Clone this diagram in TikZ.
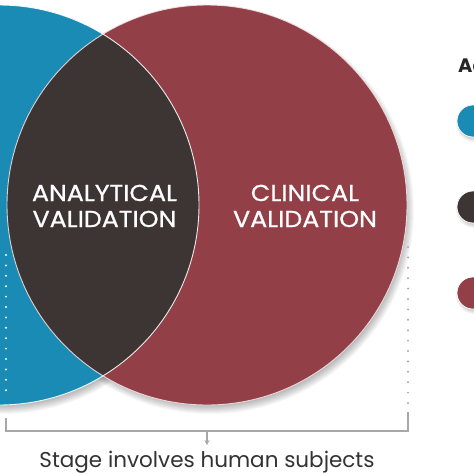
\documentclass[tikz,border=0pt]{standalone}
\usepackage{fontspec}
\setmainfont{Poppins}
\newfontfamily\lblfont{Poppins}[FakeBold=0.7]
\usetikzlibrary{arrows.meta,calc}
\definecolor{vblue}{HTML}{1A8BB5}
\definecolor{vdark}{HTML}{3D3533}
\definecolor{vred}{HTML}{933F47}
\definecolor{vgray}{HTML}{A8A8A8}
\definecolor{vtext}{HTML}{333333}
\tikzset{
  labeltext/.style={text=white, anchor=base, inner sep=0pt, font=\lblfont\fontsize{23}{26}\selectfont},
  dotline/.style={line width=2.2pt, line cap=round, dash pattern=on 0pt off 10.4pt},
  bracketline/.style={vgray, line width=1.1pt},
  rimline/.style={white, line width=0.9pt, opacity=0.9},
}
\newcommand{\wideT}[1]{\scalebox{1.1}[1]{#1}}
\begin{document}
\begin{tikzpicture}[x=1pt,y=-1pt]
\useasboundingbox (0,0) rectangle (474,474);
\clip (0,0) rectangle (474,474);
\fill[white] (0,0) rectangle (474,474);
\coordinate (bc) at (-1,205);
\coordinate (rc) at (207,205);
% soft shadows
\foreach \k in {0,...,8}{
  \fill[black,opacity=0.03] ($(rc)+(3,5)$) circle[radius={(196+\k)*1pt}];
  \fill[black,opacity=0.03] ($(bc)+(3,5)$) circle[radius={(196+\k)*1pt}];
}
\fill[vblue] (bc) circle[radius=200pt];
\fill[vred] (rc) circle[radius=200pt];
\begin{scope}
  \clip (bc) circle[radius=200pt];
  \fill[vdark] (rc) circle[radius=200pt];
\end{scope}
\draw[rimline] (bc) circle[radius=200pt];
\draw[rimline, color=white!85!vred] (rc) circle[radius=200pt];
% labels
\node[labeltext] (anl1) at (104.5,201) {\wideT{ANALYTICAL}};
\node[labeltext] (anl2) at (104.5,227) {\wideT{VALIDATION}};
\node[labeltext] (cli1) at (305,201) {\wideT{CLINICAL}};
\node[labeltext] (cli2) at (305,227) {\wideT{VALIDATION}};
% legend
\node[anchor=base west, inner sep=0pt, font=\bfseries\fontsize{19.5}{22}\selectfont, text=black!85] (leg) at (458,72) {Ac};
\coordinate (l1) at (473,121);
\coordinate (l2) at (473,207);
\coordinate (l3) at (473,293);
\foreach \c/\p in {vblue/l1, vdark/l2, vred/l3}{
  \foreach \k in {0,...,3}{
    \fill[black,opacity=0.045] ($(\p)+(1.5,2.5)$) circle[radius={(15.5+\k)*1pt}];
  }
  \fill[\c] (\p) circle[radius=16pt];
  \draw[white, line width=0.7pt] (\p) circle[radius=16pt];
}
% bracket
\coordinate (lt) at (6,255);
\coordinate (lm) at (6,398);
\coordinate (lg) at (6,409);
\coordinate (lb) at (6,418);
\coordinate (rt) at (408,247);
\coordinate (rb) at (408,412);
\coordinate (bl) at (6,431);
\coordinate (br) at (408,431);
\coordinate (mid) at (207,431);
\coordinate (tip) at (207,445);
\draw[dotline, white] (lt) -- (lm);
\draw[dotline, vgray!50] (lg) -- (lg);
\draw[dotline, vgray] (rt) -- (rb);
\draw[bracketline] (lb) -- (bl) -- (br) -- (rb);
\draw[bracketline, -{Stealth[length=5pt,width=5pt]}] (mid) -- (tip);
\node[anchor=base, inner sep=0pt, text=vtext, font=\fontsize{21.5}{24}\selectfont] (sub) at (207,467.5) {Stage involves human subjects};
\end{tikzpicture}
\end{document}
